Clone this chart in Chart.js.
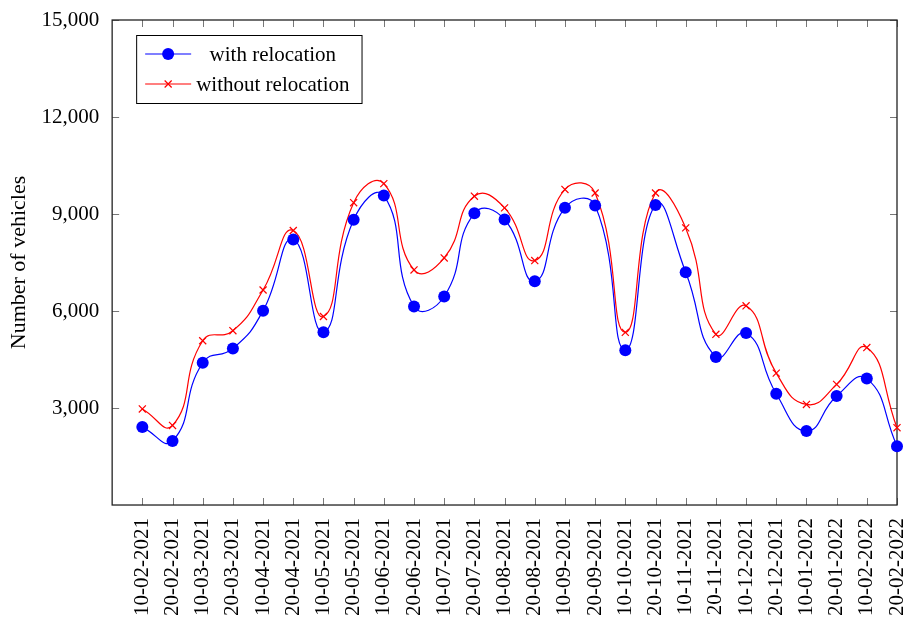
<!DOCTYPE html>
<html>
<head>
<meta charset="utf-8">
<script src="https://cdn.jsdelivr.net/npm/chart.js@4.4.0/dist/chart.umd.min.js"></script>
<style>
    html, body { margin: 0; padding: 0; background: #fff; }
    #wrap { width: 909px; height: 623px; }
</style>
</head>
<body>
<div id="wrap"><canvas id="vehiclesChart"></canvas></div>
<script>
// Dates on the x axis
const dates = [
    "10-02-2021", "20-02-2021", "10-03-2021", "20-03-2021", "10-04-2021", "20-04-2021",
    "10-05-2021", "20-05-2021", "10-06-2021", "20-06-2021", "10-07-2021", "20-07-2021",
    "10-08-2021", "20-08-2021", "10-09-2021", "20-09-2021", "10-10-2021", "20-10-2021",
    "10-11-2021", "20-11-2021", "10-12-2021", "20-12-2021", "10-01-2022", "20-01-2022",
    "10-02-2022", "20-02-2022",
];
// Number of vehicles per date
const withRelocation = [
    2410, 1980, 4400, 4840, 6010, 8210, 5340, 8820, 9570, 6140, 6450, 9020, 8830,
    6920, 9190, 9260, 4790, 9280, 7200, 4580, 5320, 3440, 2290, 3370, 3910, 1820,
];
const withoutRelocation = [
    2970, 2460, 5080, 5390, 6650, 8490, 5830, 9350, 9940, 7270, 7640, 9550, 9190,
    7560, 9760, 9650, 5340, 9650, 8570, 5280, 6160, 4080, 3110, 3730, 4870, 2390,
];
const yTicks = [3000, 6000, 9000, 12000, 15000];
const seriesNames = ["with relocation", "without relocation"];

const serif = "'Liberation Serif', 'Times New Roman', serif";

// Inward tick marks on all four sides + black frame (pgfplots look)
const frameTicks = {
    id: "frameTicks",
    beforeDatasetsDraw(chart) {
        const { ctx, chartArea: a, scales } = chart;
        const len = 7;
        ctx.save();
        ctx.strokeStyle = "#777";
        ctx.lineWidth = 1;
        ctx.beginPath();
        scales.x.ticks.forEach((t) => {
            const x = Math.round(scales.x.getPixelForValue(t.value)) + 0.5;
            ctx.moveTo(x, a.bottom);
            ctx.lineTo(x, a.bottom - len);
            ctx.moveTo(x, a.top);
            ctx.lineTo(x, a.top + len);
        });
        scales.y.ticks.forEach((t) => {
            const y = Math.round(scales.y.getPixelForValue(t.value)) + 0.5;
            ctx.moveTo(a.left, y);
            ctx.lineTo(a.left + len, y);
            ctx.moveTo(a.right, y);
            ctx.lineTo(a.right - len, y);
        });
        ctx.stroke();
        ctx.strokeStyle = "#222";
        ctx.lineWidth = 1.3;
        ctx.strokeRect(a.left, a.top, a.right - a.left, a.bottom - a.top);
        ctx.restore();
    },
};

// Legend box with line + marker samples
const lineLegend = {
    id: "lineLegend",
    afterDraw(chart) {
        const { ctx, chartArea: a } = chart;
        const x0 = a.left + 24;
        const y0 = a.top + 15;
        const rowH = 30;
        ctx.save();
        ctx.font = "21px " + serif;
        const textW = Math.max(...seriesNames.map((n) => ctx.measureText(n).width));
        const sampleW = 46;
        const boxW = 60 + textW + 12;
        const boxH = rowH * seriesNames.length + 8;
        ctx.fillStyle = "#fff";
        ctx.fillRect(x0, y0, boxW, boxH);
        ctx.strokeStyle = "#000";
        ctx.lineWidth = 1;
        ctx.strokeRect(x0 + 0.5, y0 + 0.5, boxW, boxH);
        chart.data.datasets.forEach((ds, i) => {
            const cy = y0 + 4 + rowH * i + rowH / 2;
            const sx = x0 + 9;
            ctx.strokeStyle = ds.borderColor;
            ctx.lineWidth = 1.2;
            ctx.beginPath();
            ctx.moveTo(sx, cy);
            ctx.lineTo(sx + sampleW, cy);
            ctx.stroke();
            const mx = sx + sampleW / 2;
            if (ds.pointStyle === "circle") {
                ctx.fillStyle = ds.pointBackgroundColor;
                ctx.beginPath();
                ctx.arc(mx, cy, 6, 0, Math.PI * 2);
                ctx.fill();
            } else {
                ctx.beginPath();
                ctx.moveTo(mx - 3.5, cy - 3.5);
                ctx.lineTo(mx + 3.5, cy + 3.5);
                ctx.moveTo(mx - 3.5, cy + 3.5);
                ctx.lineTo(mx + 3.5, cy - 3.5);
                ctx.stroke();
            }
            ctx.fillStyle = "#000";
            ctx.textAlign = "center";
            ctx.textBaseline = "middle";
            ctx.fillText(seriesNames[i], x0 + 60 + textW / 2, cy + 1);
        });
        ctx.restore();
    },
};

const toPoints = (arr) => arr.map((v, i) => ({ x: i, y: v }));

const ctx = document.getElementById("vehiclesChart").getContext("2d");
const vehiclesChart = new Chart(ctx, {
    type: "line",
    data: {
        datasets: [
            {
                label: seriesNames[0],
                data: toPoints(withRelocation),
                borderColor: "#0000ff",
                backgroundColor: "#0000ff",
                pointBackgroundColor: "#0000ff",
                pointBorderColor: "#0000ff",
                pointStyle: "circle",
                pointRadius: 6,
                pointBorderWidth: 0,
                borderWidth: 1.2,
                tension: 0.5,
                clip: false,
            },
            {
                label: seriesNames[1],
                data: toPoints(withoutRelocation),
                borderColor: "#ff0000",
                backgroundColor: "#ff0000",
                pointBorderColor: "#ff0000",
                pointStyle: "crossRot",
                pointRadius: 5,
                pointBorderWidth: 1.2,
                borderWidth: 1.2,
                tension: 0.5,
                clip: false,
            },
        ],
    },
    options: {
        responsive: true,
        maintainAspectRatio: false,
        animation: false,
        layout: { padding: { top: 20, right: 12, left: 6, bottom: 2 } },
        scales: {
            x: {
                type: "linear",
                min: -1,
                max: dates.length - 1,
                afterBuildTicks: (scale) => {
                    scale.ticks = dates.map((d, i) => ({ value: i }));
                },
                afterFit: (scale) => {
                    scale.paddingRight = 0;
                },
                ticks: {
                    autoSkip: false,
                    minRotation: 90,
                    maxRotation: 90,
                    padding: 5,
                    color: "#000",
                    font: { family: serif, size: 21 },
                    callback: (value) => dates[value] || "",
                },
                grid: { display: false },
                border: { display: false },
            },
            y: {
                min: 0,
                max: 15000,
                afterBuildTicks: (scale) => {
                    scale.ticks = yTicks.map((v) => ({ value: v }));
                },
                ticks: {
                    padding: 5,
                    color: "#000",
                    font: { family: serif, size: 21 },
                    callback: (value) => value.toLocaleString("en-US"),
                },
                title: {
                    display: true,
                    text: "Number of vehicles",
                    color: "#000",
                    font: { family: serif, size: 22 },
                    padding: { top: 0, bottom: 4 },
                },
                grid: { display: false },
                border: { display: false },
            },
        },
        plugins: {
            legend: { display: false },
            tooltip: { enabled: false },
        },
    },
    plugins: [frameTicks, lineLegend],
});
</script>
</body>
</html>
